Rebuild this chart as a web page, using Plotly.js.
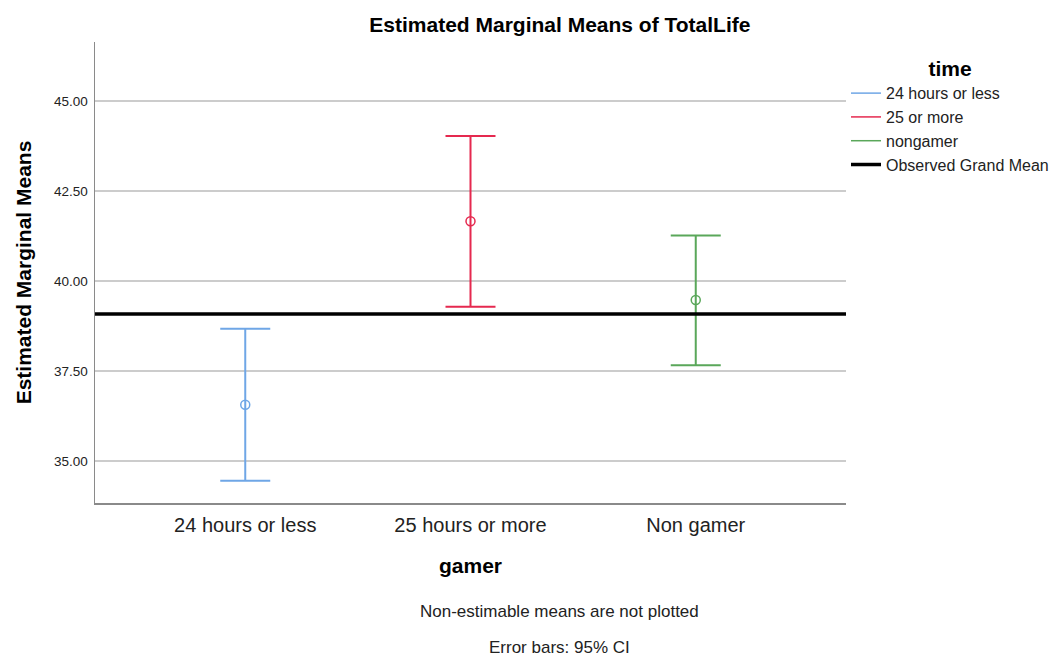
<!DOCTYPE html>
<html>
<head>
<meta charset="utf-8">
<script src="https://cdn.plot.ly/plotly-3.0.1.min.js"></script>
<style>html,body{margin:0;padding:0;background:#fff;}#chart{width:1063px;height:657px;}</style>
</head>
<body>
<div id="chart"></div>
<script>
// Data
const gamerLevels = ["24 hours or less", "25 hours or more", "Non gamer"];
const timeLevels = ["24 hours or less", "25 or more", "nongamer"];
const means = [36.56, 41.66, 39.47];
const upperCI = [38.67, 44.03, 41.26];
const lowerCI = [34.45, 39.28, 37.66];
const grandMean = 39.08;
const yTicks = [35, 37.5, 40, 42.5, 45];
const colors = ["#6fa6e6", "#e5294f", "#5aa75a"];

const FONT = "Liberation Sans, Arial, sans-serif";
const traces = [];
for (let i = 0; i < gamerLevels.length; i++) {
  traces.push({
    type: "scatter", mode: "markers",
    x: [gamerLevels[i]], y: [means[i]],
    marker: {symbol: "circle-open", size: 9, color: colors[i], line: {width: 1.5, color: colors[i]}},
    error_y: {type: "data", symmetric: false,
      array: [upperCI[i] - means[i]], arrayminus: [means[i] - lowerCI[i]],
      color: colors[i], thickness: 2, width: 25},
    showlegend: false, hoverinfo: "skip"
  });
}
for (let i = 0; i < timeLevels.length; i++) {
  traces.push({
    type: "scatter", mode: "lines", x: [null], y: [null],
    name: timeLevels[i], line: {color: colors[i], width: 1.5}, showlegend: true
  });
}
traces.push({
  type: "scatter", mode: "lines", x: [null], y: [null],
  name: "Observed Grand Mean", line: {color: "#000", width: 3.5}, showlegend: true
});

const layout = {
  width: 1063, height: 657,
  paper_bgcolor: "#fff", plot_bgcolor: "#fff",
  margin: {l: 95, r: 217, t: 42, b: 154, autoexpand: false},
  font: {family: FONT, color: "#000"},
  title: {text: "<b>Estimated Marginal Means of TotalLife</b>", font: {size: 21, family: FONT, color: "#000"},
    xref: "paper", x: 0.619, xanchor: "center", yref: "container", y: 0.963, yanchor: "middle"},
  xaxis: {
    type: "category", categoryorder: "array", categoryarray: gamerLevels,
    range: [-0.667, 2.667], showgrid: false, zeroline: false, automargin: false,
    showline: true, linecolor: "#8a8a8a", linewidth: 1.5, ticks: "outside", ticklen: 3, tickcolor: "rgba(0,0,0,0)",
    tickfont: {size: 20, family: FONT, color: "#222"},
    title: {text: "<b>gamer</b>", font: {size: 21, family: FONT, color: "#000"}, standoff: 24},
    fixedrange: true
  },
  yaxis: {
    range: [33.83, 46.64], tickvals: yTicks, tickformat: ".2f", automargin: false,
    showgrid: true, gridcolor: "#cccccc", gridwidth: 1.5, zeroline: false,
    showline: true, linecolor: "#8a8a8a", linewidth: 1.5, ticks: "outside", ticklen: 3, tickcolor: "rgba(0,0,0,0)",
    tickfont: {size: 13.5, family: FONT, color: "#222"},
    title: {text: "<b>Estimated Marginal Means</b>", font: {size: 21, family: FONT, color: "#000"}, standoff: 16},
    fixedrange: true
  },
  shapes: [{type: "line", xref: "paper", x0: 0, x1: 1, yref: "y", y0: grandMean, y1: grandMean,
    line: {color: "#000", width: 3.5}, layer: "above"}],
  legend: {
    x: 1.0, xanchor: "left", y: 0.985, yanchor: "top",
    title: {text: "<b>time</b>", side: "top center", font: {size: 21, family: FONT, color: "#000"}},
    font: {size: 16, family: FONT, color: "#222"},
    bgcolor: "rgba(0,0,0,0)", tracegroupgap: 0, itemwidth: 30
  },
  annotations: [
    {text: "Non-estimable means are not plotted", xref: "paper", x: 0.619, xanchor: "center",
      yref: "paper", y: (503 - 611) / 461, yanchor: "middle", showarrow: false,
      font: {size: 17, family: FONT, color: "#222"}},
    {text: "Error bars: 95% CI", xref: "paper", x: 0.619, xanchor: "center",
      yref: "paper", y: (503 - 647) / 461, yanchor: "middle", showarrow: false,
      font: {size: 17, family: FONT, color: "#222"}}
  ],
  showlegend: true
};

Plotly.newPlot("chart", traces, layout, {displayModeBar: false, staticPlot: true});
</script>
</body>
</html>
